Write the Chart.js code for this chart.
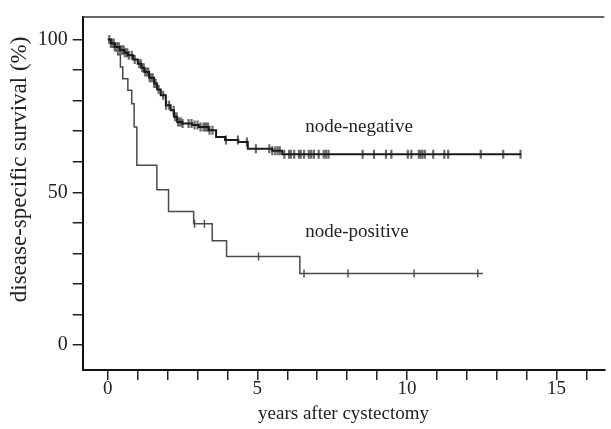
<!DOCTYPE html>
<html lang="en">
<head>
  <meta charset="UTF-8" />
  <title>disease-specific survival</title>
  <script src="https://cdn.jsdelivr.net/npm/chart.js"></script>
  <style>
    body { margin: 0; background: #fff; }
    #wrap { width: 611px; height: 429px; position: relative; }
  </style>
</head>
<body>
  <div id="wrap"><canvas id="km"></canvas></div>

  <script>
    // Kaplan-Meier steps (years, % surviving)
    const negTimes = [0, 0.1, 0.23, 0.4, 0.55, 0.67, 0.85, 1.0, 1.12, 1.22, 1.38, 1.55, 1.65, 1.77, 1.94, 2.1, 2.21, 2.32, 2.49, 2.82, 3.04, 3.37, 3.62, 3.92, 4.36, 4.68, 5.5, 5.83, 13.82];
    const negSurv  = [100, 98.8, 97.6, 96.6, 95.7, 94.9, 93.5, 92.1, 90.8, 89.4, 87.5, 85.6, 83.7, 81.8, 78.5, 76.9, 74.7, 73, 72.5, 72, 71.4, 70.3, 68.1, 67.1, 66.5, 64.3, 63.6, 62.5, 62.5];
    const negCensor = [0.05, 0.1, 0.13, 0.17, 0.2, 0.23, 0.27, 0.3, 0.33, 0.37, 0.4, 0.43, 0.47, 0.5, 0.53, 0.57, 0.6, 0.65, 0.7, 0.8, 0.9,
      1.05, 1.1, 1.15, 1.2, 1.25, 1.3, 1.35, 1.4, 1.45, 1.5, 1.55, 1.6, 1.7, 1.85, 1.95, 2.05, 2.2, 2.25, 2.3, 2.35, 2.4,
      2.45, 2.5, 2.7, 2.8, 2.9, 3.0, 3.1, 3.2, 3.25, 3.3, 3.35, 3.4, 3.5, 3.95, 4.35, 4.65, 4.95, 5.4, 5.5, 5.6,
      5.68, 5.75, 5.9, 6.06, 6.12, 6.23, 6.39, 6.45, 6.56, 6.72, 6.8, 6.89, 7.05, 7.22, 7.3, 7.38,
      8.52, 8.9, 9.3, 9.48, 10.03, 10.15, 10.4, 10.46, 10.52, 10.6, 10.88, 11.25, 11.38, 12.47, 13.22, 13.8];

    const posTimes = [0, 0.15, 0.33, 0.42, 0.5, 0.67, 0.8, 0.88, 0.97, 1.64, 2.03, 2.87, 3.49, 3.97, 6.42, 12.54];
    const posSurv  = [100, 97.5, 95, 91, 87.2, 83.4, 79, 71.4, 58.9, 50.8, 43.7, 39.7, 34.1, 29, 23.4, 23.4];
    const posCensor = [2.9, 3.23, 5.04, 6.56, 8.03, 10.24, 12.37];

    const xTicks = [0, 1, 2, 3, 4, 5, 6, 7, 8, 9, 10, 11, 12, 13, 14, 15, 16];
    const xLabels = [0, 5, 10, 15];
    const yTicks = [0, 10, 20, 30, 40, 50, 60, 70, 80, 90, 100];
    const yLabels = [0, 50, 100];

    const serif = "'Liberation Serif', 'DejaVu Serif', serif";

    function steps(times, surv) {
      return times.map((t, i) => ({ x: t, y: surv[i] }));
    }
    // y of a censor mark = survival level at that time
    function marks(censor, times, surv) {
      return censor.map(t => {
        let v = surv[0];
        for (let i = 0; i < times.length; i++) if (times[i] <= t) v = surv[i];
        return { x: t, y: v };
      });
    }

    const labelsPlugin = {
      id: 'labels',
      afterDatasetsDraw(chart) {
        const { ctx, chartArea, scales } = chart;
        ctx.save();
        // top frame line
        ctx.strokeStyle = '#333';
        ctx.lineWidth = 1.5;
        ctx.beginPath();
        ctx.moveTo(chartArea.left, chartArea.top);
        ctx.lineTo(chartArea.right, chartArea.top);
        ctx.stroke();
        ctx.fillStyle = '#222';
        ctx.font = '19px ' + serif;
        ctx.textBaseline = 'middle';
        ctx.fillText('node-negative', scales.x.getPixelForValue(6.6), scales.y.getPixelForValue(71.3));
        ctx.fillText('node-positive', scales.x.getPixelForValue(6.6), scales.y.getPixelForValue(36.9));
        // y axis title, sits a bit above the middle of the plot like the original
        ctx.font = '23px ' + serif;
        ctx.textAlign = 'center';
        ctx.translate(20, scales.y.getPixelForValue(57.5));
        ctx.rotate(-Math.PI / 2);
        ctx.fillText('disease-specific survival (%)', 0, 0);
        ctx.restore();
      }
    };

    new Chart(document.getElementById('km'), {
      type: 'line',
      data: {
        datasets: [
          { data: steps(negTimes, negSurv), stepped: true, borderColor: '#1a1a1a', borderWidth: 2, pointRadius: 0 },
          { data: marks(negCensor, negTimes, negSurv), showLine: false, pointStyle: 'line', rotation: 90,
            pointRadius: 4.5, borderColor: '#6a6a6a', borderWidth: 2.2 },
          { data: steps(posTimes, posSurv), stepped: true, borderColor: '#4a4a4a', borderWidth: 1.5, pointRadius: 0 },
          { data: marks(posCensor, posTimes, posSurv), showLine: false, pointStyle: 'line', rotation: 90,
            pointRadius: 4, borderColor: '#555', borderWidth: 1.5 }
        ]
      },
      options: {
        responsive: true,
        maintainAspectRatio: false,
        animation: false,
        layout: { padding: { top: 16.7, right: 0, left: 0, bottom: 0 } },
        plugins: { legend: { display: false }, tooltip: { enabled: false } },
        scales: {
          x: {
            type: 'linear', min: -0.84, max: 16.6,
            afterBuildTicks: s => { s.ticks = xTicks.map(v => ({ value: v })); },
            afterFit: s => { s.height = 59; },
            ticks: {
              autoSkip: false, maxRotation: 0, padding: -2, color: '#222',
              font: { family: serif, size: 19 },
              callback: v => xLabels.includes(v) ? String(v) : ''
            },
            grid: { drawOnChartArea: false, tickLength: 10, color: '#222', lineWidth: 1.5 },
            border: { display: true, color: '#111', width: 2 },
            title: { display: true, text: 'years after cystectomy', color: '#222',
              font: { family: serif, size: 19 }, padding: { top: 4, bottom: 4 } }
          },
          y: {
            type: 'linear', min: -8.18, max: 107.4,
            afterBuildTicks: s => { s.ticks = yTicks.map(v => ({ value: v })); },
            afterFit: s => { s.width = 82.7; },
            ticks: {
              autoSkip: false, padding: 5, color: '#222',
              font: { family: serif, size: 20 },
              callback: v => yLabels.includes(v) ? String(v) : ''
            },
            grid: { drawOnChartArea: false, tickLength: 10, color: '#222', lineWidth: 1.5 },
            border: { display: true, color: '#111', width: 2 }
          }
        }
      },
      plugins: [labelsPlugin]
    });
  </script>
</body>
</html>
